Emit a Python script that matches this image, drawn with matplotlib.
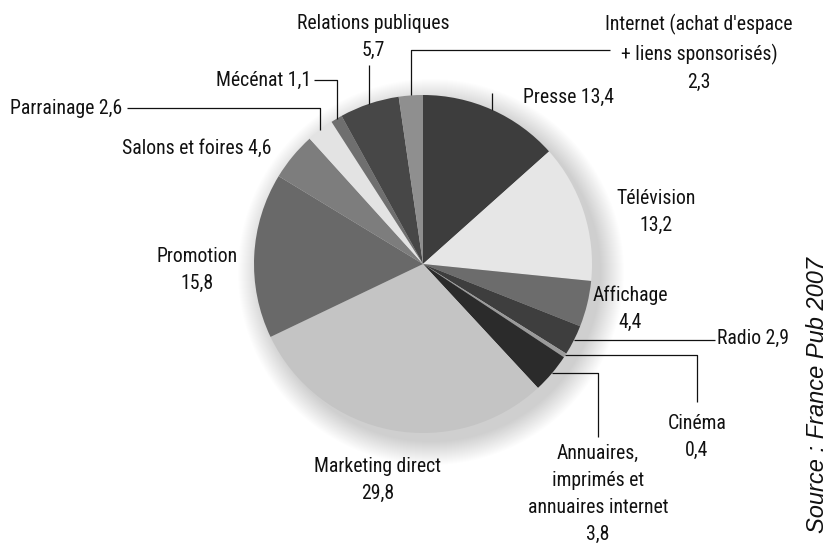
import numpy as np
import matplotlib.pyplot as plt
from matplotlib.patches import Circle

plt.rcParams['font.family'] = ['Roboto Condensed', 'Archivo Narrow', 'Liberation Sans Narrow', 'DejaVu Sans']

# data (percent), clockwise from 12 o'clock
categories = ['Presse', 'Télévision', 'Affichage', 'Radio', 'Cinéma', 'Annuaires',
              'Marketing direct', 'Promotion', 'Salons et foires', 'Parrainage',
              'Mécénat', 'Relations publiques', 'Internet']
values = [13.4, 13.2, 4.4, 2.9, 0.4, 3.8, 29.8, 15.8, 4.6, 2.6, 1.1, 5.7, 2.3]
labels = ['Presse 13,4', 'Télévision\n13,2', 'Affichage\n4,4', 'Radio 2,9', 'Cinéma\n0,4',
          'Annuaires,\nimprimés et\nannuaires internet\n3,8', 'Marketing direct\n29,8',
          'Promotion\n15,8', 'Salons et foires 4,6', 'Parrainage 2,6', 'Mécénat 1,1',
          'Relations publiques\n5,7', "Internet (achat d'espace\n+ liens sponsorisés)\n2,3"]
colors = ['#3d3d3d', '#e6e6e6', '#6c6c6c', '#3e3e3e', '#9a9a9a', '#2b2b2b', '#c4c4c4',
          '#696969', '#7d7d7d', '#e3e3e3', '#6f6f6f', '#474747', '#8f8f8f']

W, H = 833, 549
cx, cy, R = 423, H - 264, 169

fig = plt.figure(figsize=(W / 100, H / 100), dpi=100)
ax = fig.add_axes([0, 0, 1, 1])

# soft shadow, mostly towards lower right
for i in range(24):
    ax.add_patch(Circle((cx + 8, cy - 8), R + 24 - i, color='#000000', alpha=0.009, lw=0, zorder=0))

wedges, _ = ax.pie(values, colors=colors, startangle=90, counterclock=False,
                   center=(cx, cy), radius=R, wedgeprops=dict(linewidth=0))
for w in wedges:
    w.set_zorder(2)

ax.set_xlim(0, W)
ax.set_ylim(0, H)
ax.set_aspect('equal')
ax.axis('off')

fs = 14.2

# label placement (pixel coords from top-left), ha
text_pos = {
    'Presse': (569, 97, 'center'),
    'Télévision': (656, 212, 'center'),
    'Affichage': (630, 309, 'center'),
    'Radio': (717, 338, 'left'),
    'Cinéma': (697, 437, 'center'),
    'Annuaires': (598, 494, 'center'),
    'Marketing direct': (378, 480, 'center'),
    'Promotion': (197, 270, 'center'),
    'Salons et foires': (197, 148, 'center'),
    'Parrainage': (122, 108, 'right'),
    'Mécénat': (311, 80, 'right'),
    'Relations publiques': (373, 37, 'center'),
    'Internet': (699, 53, 'center'),
}

for cat, lab in zip(categories, labels):
    px, py, ha = text_pos[cat]
    ax.text(px, H - py, lab, ha=ha, va='center', fontsize=fs, color='#111111',
            linespacing=1.55, zorder=5)

# leader lines: start on the pie edge at the slice mid-angle
leaders = {
    'Presse': [('y', 93)],
    'Radio': [('x', 715)],
    'Cinéma': [('x', 697), ('y', 402)],
    'Annuaires': [('x', 598), ('y', 437)],
    'Parrainage': [('y', 108), ('x', 127)],
    'Mécénat': [('y', 80), ('x', 314)],
    'Relations publiques': [('y', 65)],
    'Internet': [('y', 50), ('x', 610)],
}

for w, cat in zip(wedges, categories):
    if cat not in leaders:
        continue
    ang = np.deg2rad((w.theta1 + w.theta2) / 2)
    x0 = cx + R * np.cos(ang)
    y0 = cy + R * np.sin(ang)
    xs, ys = [x0], [y0]
    for axis, v in leaders[cat]:
        if axis == 'x':
            xs.append(v)
            ys.append(ys[-1])
        else:
            xs.append(xs[-1])
            ys.append(H - v)
    ax.plot(xs, ys, color='#111111', lw=0.9, zorder=3, solid_capstyle='butt')

ax.text(818, H - 395, 'Source : France Pub 2007', rotation=90, ha='center', va='center',
        fontsize=17, style='italic', color='#111111', family=['Liberation Sans', 'DejaVu Sans'])

fig.savefig('out.png', dpi=100, facecolor='white')
